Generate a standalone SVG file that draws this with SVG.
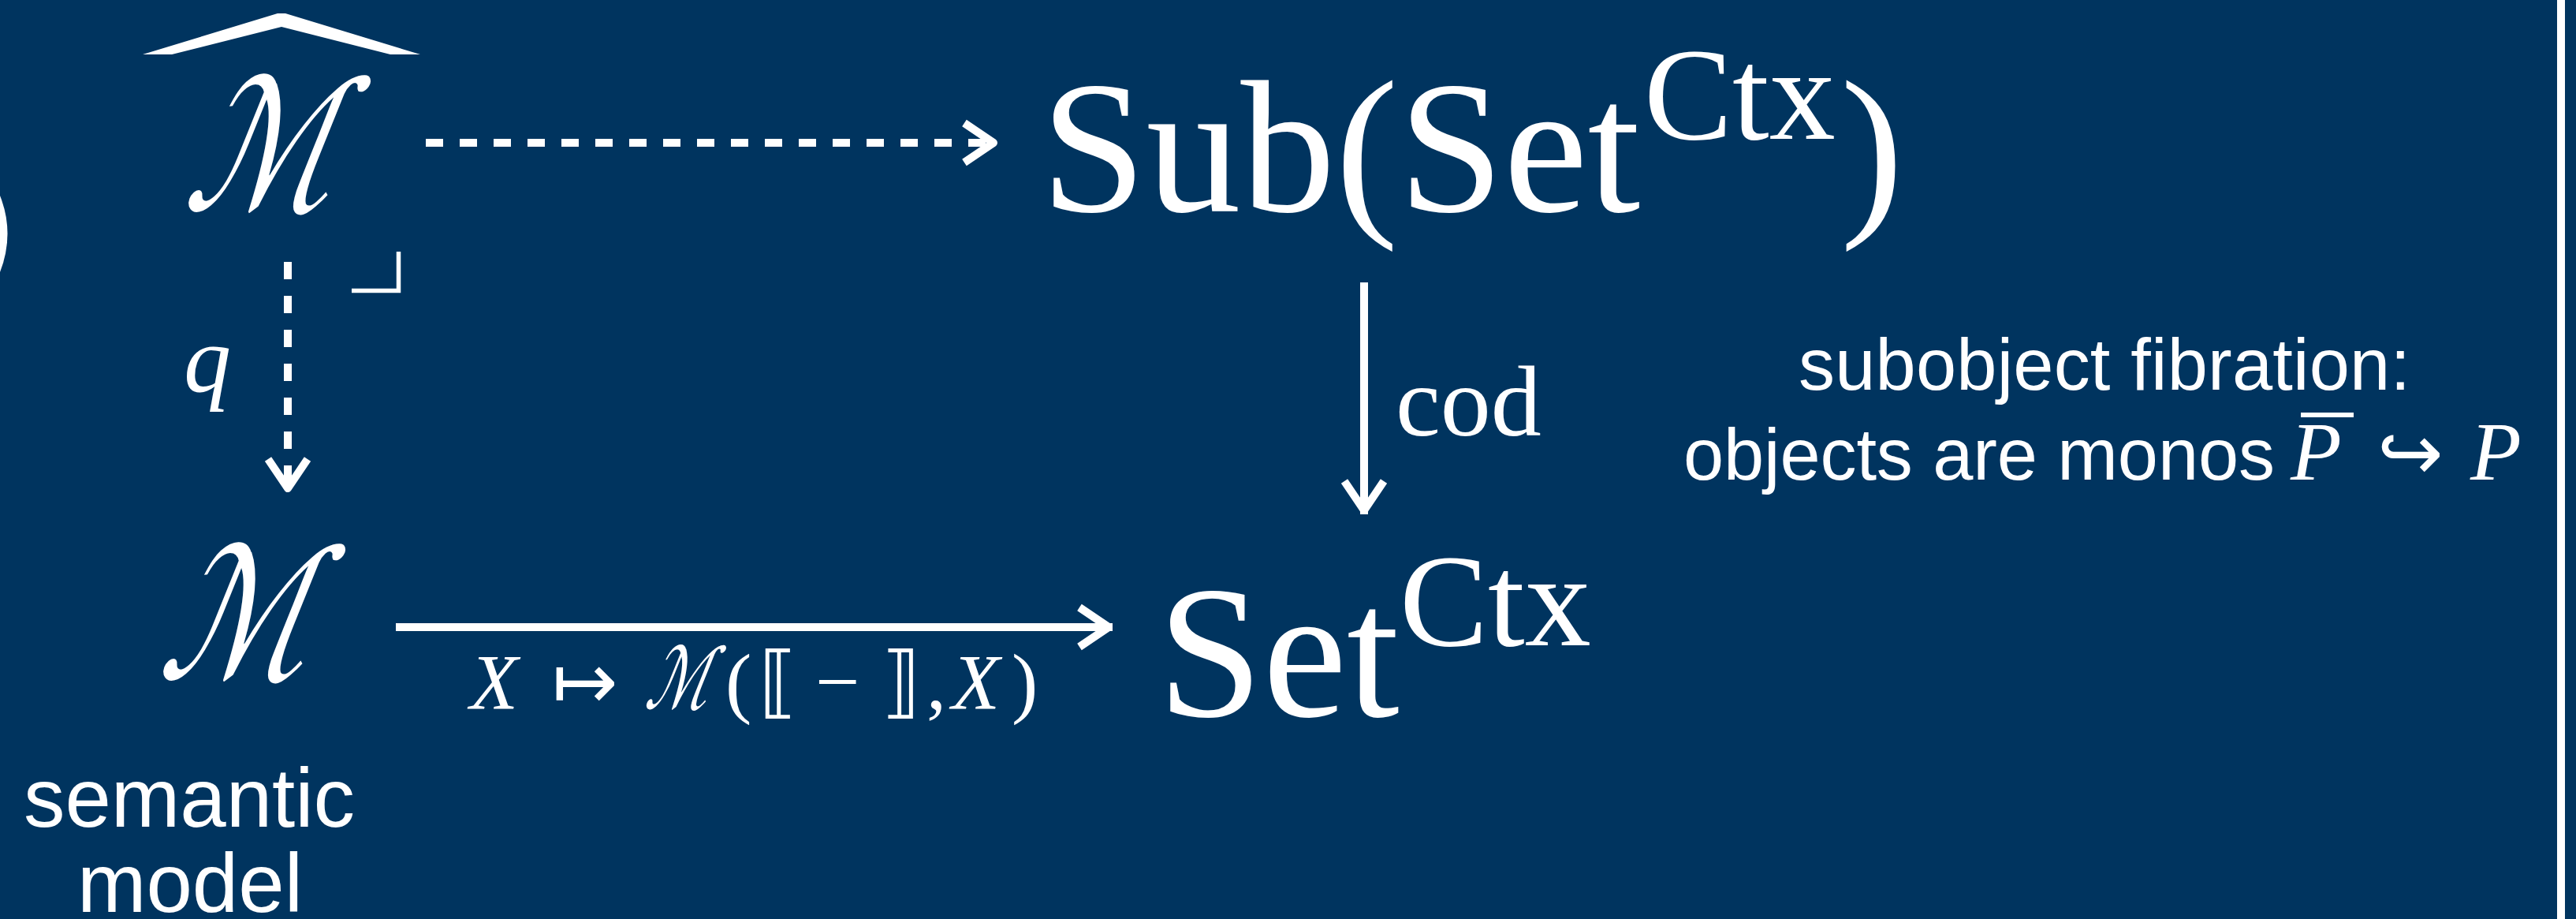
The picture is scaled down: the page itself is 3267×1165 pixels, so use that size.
<svg xmlns="http://www.w3.org/2000/svg" width="3267" height="1165" viewBox="0 0 3267 1165">
<style>
.serif{font-family:"Liberation Serif","DejaVu Serif",serif;fill:#fff}
.it{font-style:italic}
.sans{font-family:"Liberation Sans","DejaVu Sans",sans-serif;fill:#fff}
.sym{font-family:"DejaVu Sans",sans-serif;fill:#fff}
.scr{font-family:"DejaVu Serif","DejaVu Sans",serif;fill:#fff}
.edge{stroke:#fff;stroke-width:10;fill:none}
.dash{stroke-dasharray:22 21}
</style>
<defs>
<marker id="head" markerUnits="userSpaceOnUse" markerWidth="80" markerHeight="80" refX="0" refY="0" viewBox="-60 -40 80 80" orient="auto" overflow="visible">
<path d="M-42,-25 L-5,0 L-42,25" fill="none" stroke="#fff" stroke-width="10" stroke-linejoin="round" stroke-linecap="butt"/>
</marker>
</defs>
<rect width="3267" height="1165" fill="#00345F"/>
<path d="M0,248 Q19,296 0,345 Z" fill="#fff"/>
<rect x="3243" y="0" width="10" height="1165" fill="#fff"/>

<g id="node-mhat">
<path d="M181,69 L352,17 L362,17 L533,69 L495,69 L357,34 L218,69 Z" fill="#fff"/>
<text class="scr" transform="translate(322,266) skewX(-22) scale(0.75,1)" x="0" y="0" font-size="230" text-anchor="middle">ℳ</text>
</g>

<g id="node-sub">
<text class="serif" x="1320" y="268" font-size="240">Sub(Set</text>
<text class="serif" x="2085" y="176" font-size="168">Ctx</text>
<text class="serif" x="2334" y="268" font-size="240">)</text>
</g>

<g id="node-m">
<text class="scr" transform="translate(290,860) skewX(-22) scale(0.75,1)" x="0" y="0" font-size="230" text-anchor="middle">ℳ</text>
</g>

<g id="node-set">
<text class="serif" x="1468" y="908" font-size="240">Set</text>
<text class="serif" x="1775" y="818" font-size="168">Ctx</text>
</g>

<g id="node-semantic-model">
<text class="sans" x="240" y="1048" font-size="105" text-anchor="middle">semantic</text>
<text class="sans" x="241" y="1156" font-size="105" text-anchor="middle">model</text>
</g>

<g id="node-subobject-note">
<text class="sans" x="2669" y="494" font-size="92" text-anchor="middle" textLength="776">subobject fibration:</text>
<text class="sans" x="2135" y="608" font-size="92" textLength="750">objects are monos</text>
<text class="serif it" x="2905" y="608" font-size="106">P</text>
<rect x="2918" y="523" width="67" height="6" fill="#fff"/>
<text class="sym" x="3015" y="608" font-size="100">↪</text>
<text class="serif it" x="3133" y="608" font-size="106">P</text>
</g>

<g id="connectors">
<line class="edge dash" x1="540" y1="181" x2="1265" y2="181" marker-end="url(#head)"/>
<line class="edge dash" x1="365" y1="332" x2="365" y2="624" marker-end="url(#head)"/>
<path d="M446,368.5 H505.5 V319" fill="none" stroke="#fff" stroke-width="5.5"/>
<text class="serif it" x="233" y="496" font-size="120">q</text>
<line class="edge" x1="1730" y1="358" x2="1730" y2="652" marker-end="url(#head)"/>
<text class="serif" x="1770" y="552" font-size="128">cod</text>
<line class="edge" x1="502" y1="795" x2="1411" y2="795" marker-end="url(#head)"/>
<text y="898" font-size="100">
<tspan class="serif it" x="596">X</tspan>
<tspan class="sym" x="700">↦</tspan>
<tspan class="serif" x="920">(</tspan>
<tspan class="sym" x="962">⟦</tspan>
<tspan class="serif" x="1034">−</tspan>
<tspan class="sym" x="1118">⟧</tspan>
<tspan class="serif" x="1175">,</tspan>
<tspan class="serif it" x="1207">X</tspan>
<tspan class="serif" x="1283">)</tspan>
</text>
<text class="scr" transform="translate(855,898) skewX(-22) scale(0.68,1)" x="0" y="0" font-size="108" text-anchor="middle">ℳ</text>
</g>
</svg>
